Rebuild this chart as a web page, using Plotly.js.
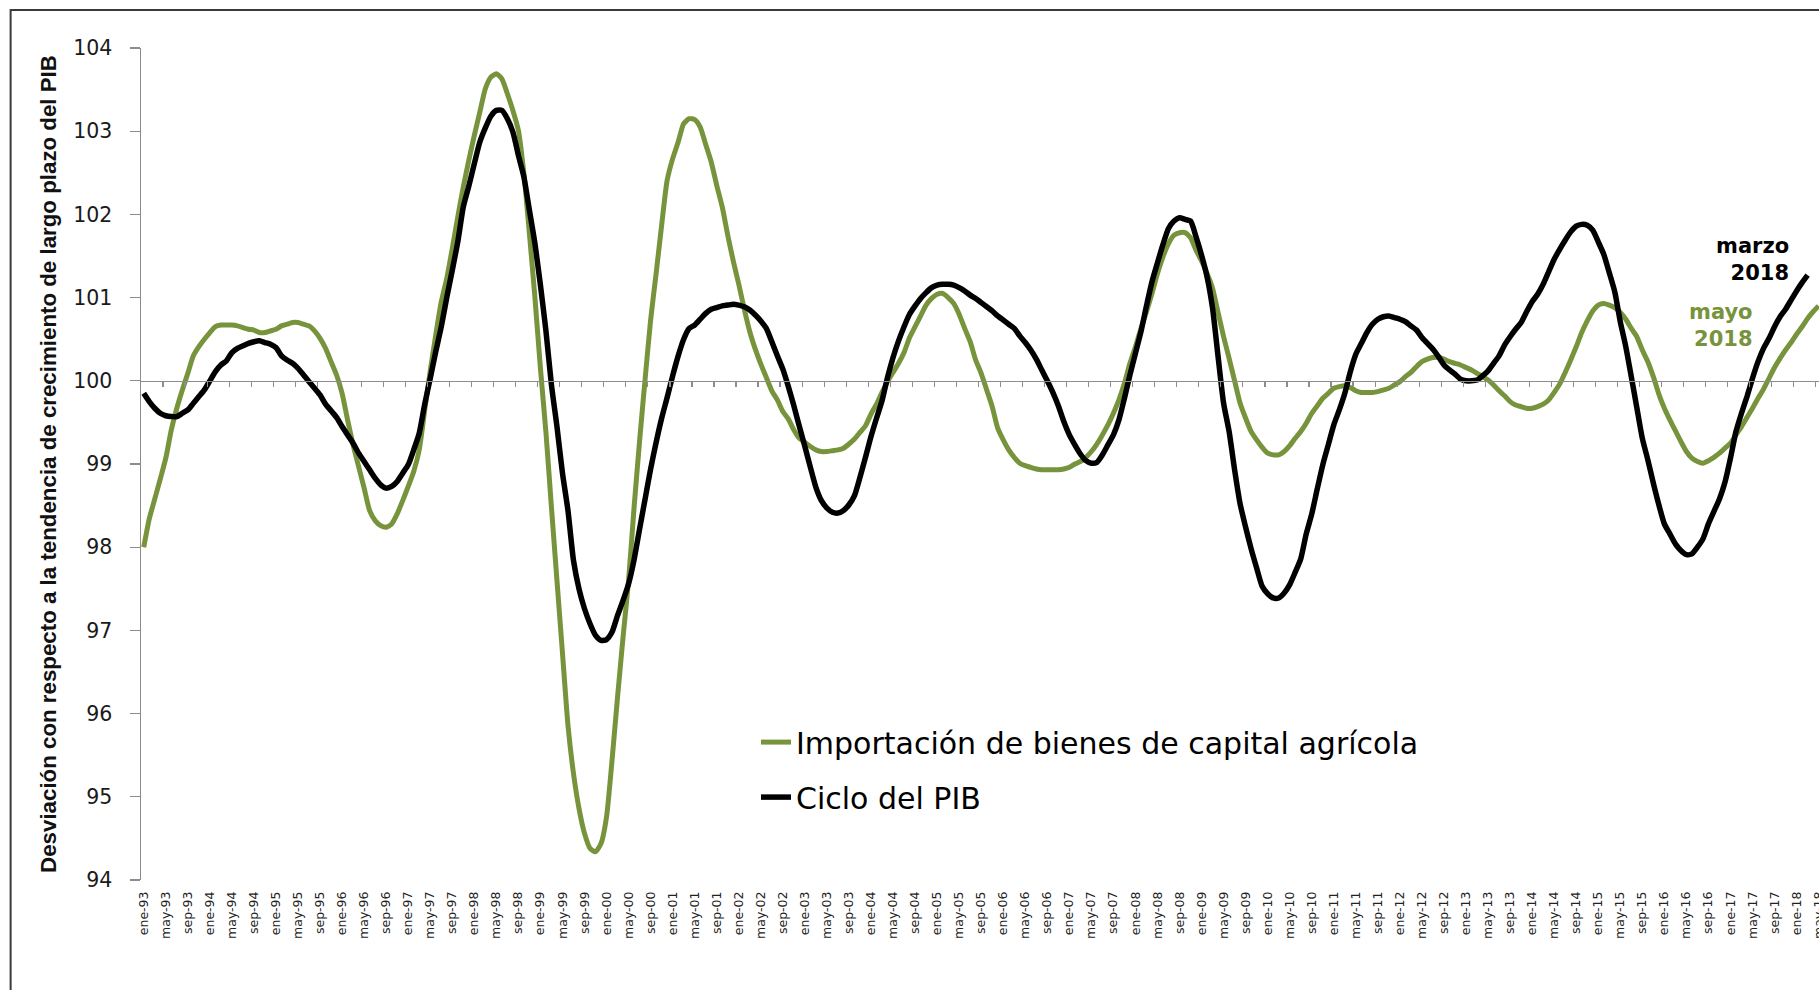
<!DOCTYPE html>
<html>
<head>
<meta charset="utf-8">
<script src="https://cdn.plot.ly/plotly-3.0.1.min.js"></script>
<style>
  html, body { margin: 0; padding: 0; background: #ffffff; overflow: hidden; }
  #chart { width: 1819px; height: 990px; }
</style>
</head>
<body>
<div id="chart"></div>
<script>
// ---- Data ----
const monthNames = ['ene','feb','mar','abr','may','jun','jul','ago','sep','oct','nov','dic'];
const firstYear = 1993;
const monthCount = 305; // ene-93 .. may-18

// Importación de bienes de capital agrícola (ene-93 .. may-18)
const importacion = [
  98.00, 98.34, 98.58, 98.82, 99.07, 99.41, 99.67, 99.89, 100.09, 100.30, 100.41, 100.50,
  100.58, 100.65, 100.67, 100.67, 100.67, 100.66, 100.64, 100.62, 100.61, 100.58, 100.58, 100.60,
  100.62, 100.66, 100.68, 100.70, 100.70, 100.68, 100.66, 100.60, 100.51, 100.39, 100.23, 100.07,
  99.85, 99.53, 99.23, 98.97, 98.71, 98.44, 98.32, 98.26, 98.24, 98.28, 98.40, 98.56,
  98.73, 98.91, 99.17, 99.65, 100.12, 100.55, 100.95, 101.23, 101.59, 101.97, 102.33, 102.65,
  102.95, 103.23, 103.51, 103.65, 103.69, 103.63, 103.45, 103.25, 103.01, 102.49, 101.77, 101.00,
  100.15, 99.38, 98.48, 97.60, 96.73, 95.86, 95.28, 94.86, 94.56, 94.38, 94.34, 94.44,
  94.76, 95.44, 96.20, 96.92, 97.60, 98.48, 99.28, 100.02, 100.73, 101.29, 101.87, 102.41,
  102.67, 102.87, 103.09, 103.15, 103.14, 103.05, 102.84, 102.63, 102.35, 102.09, 101.75, 101.44,
  101.16, 100.86, 100.59, 100.38, 100.20, 100.04, 99.88, 99.77, 99.63, 99.54, 99.41, 99.31,
  99.26, 99.21, 99.17, 99.15, 99.15, 99.16, 99.17, 99.19, 99.24, 99.30, 99.38, 99.46,
  99.60, 99.72, 99.86, 99.99, 100.10, 100.21, 100.34, 100.52, 100.65, 100.78, 100.91, 100.99,
  101.04, 101.05, 101.00, 100.93, 100.80, 100.63, 100.47, 100.25, 100.09, 99.89, 99.69, 99.43,
  99.29, 99.17, 99.08, 99.01, 98.98, 98.96, 98.94, 98.93, 98.93, 98.93, 98.93, 98.94,
  98.96, 99.00, 99.03, 99.08, 99.15, 99.24, 99.35, 99.47, 99.61, 99.77, 99.97, 100.21,
  100.41, 100.63, 100.83, 101.05, 101.29, 101.49, 101.65, 101.75, 101.78, 101.78, 101.72, 101.57,
  101.44, 101.29, 101.11, 100.82, 100.53, 100.27, 100.00, 99.73, 99.55, 99.39, 99.29, 99.20,
  99.13, 99.11, 99.11, 99.15, 99.22, 99.31, 99.39, 99.49, 99.61, 99.70, 99.79, 99.85,
  99.91, 99.93, 99.94, 99.92, 99.88, 99.86, 99.86, 99.86, 99.87, 99.89, 99.91, 99.95,
  99.99, 100.05, 100.10, 100.17, 100.23, 100.26, 100.28, 100.28, 100.26, 100.23, 100.21, 100.19,
  100.16, 100.13, 100.09, 100.05, 100.01, 99.95, 99.88, 99.82, 99.75, 99.71, 99.69, 99.67,
  99.67, 99.69, 99.72, 99.77, 99.86, 99.96, 100.10, 100.25, 100.41, 100.58, 100.72, 100.84,
  100.91, 100.93, 100.91, 100.88, 100.82, 100.74, 100.63, 100.53, 100.37, 100.23, 100.05, 99.84,
  99.67, 99.53, 99.40, 99.27, 99.15, 99.07, 99.03, 99.01, 99.04, 99.08, 99.13, 99.19,
  99.25, 99.35, 99.45, 99.56, 99.67, 99.79, 99.90, 100.03, 100.16, 100.27, 100.37, 100.46,
  100.56, 100.65, 100.75, 100.83, 100.90
];

// Ciclo del PIB (ene-93 .. mar-18)
const cicloPIB = [
  99.85, 99.75, 99.67, 99.61, 99.58, 99.57, 99.57, 99.61, 99.65, 99.73, 99.81, 99.89,
  100.00, 100.11, 100.19, 100.24, 100.34, 100.39, 100.42, 100.45, 100.47, 100.48, 100.46, 100.44,
  100.40, 100.30, 100.25, 100.21, 100.15, 100.07, 99.99, 99.91, 99.83, 99.72, 99.64, 99.56,
  99.45, 99.35, 99.25, 99.13, 99.03, 98.93, 98.83, 98.75, 98.71, 98.73, 98.79, 98.89,
  98.99, 99.17, 99.37, 99.72, 100.03, 100.35, 100.65, 101.00, 101.33, 101.67, 102.09, 102.34,
  102.61, 102.87, 103.04, 103.18, 103.25, 103.25, 103.15, 102.99, 102.71, 102.45, 102.05, 101.65,
  101.15, 100.60, 99.95, 99.45, 98.89, 98.44, 97.84, 97.50, 97.26, 97.08, 96.94, 96.88,
  96.89, 96.98, 97.18, 97.36, 97.56, 97.85, 98.22, 98.58, 98.94, 99.26, 99.55, 99.80,
  100.06, 100.30, 100.50, 100.63, 100.67, 100.74, 100.81, 100.86, 100.88, 100.90, 100.91, 100.92,
  100.91, 100.89, 100.85, 100.79, 100.72, 100.63, 100.47, 100.30, 100.14, 99.93, 99.70, 99.45,
  99.21, 98.96, 98.72, 98.56, 98.47, 98.42, 98.41, 98.44, 98.51, 98.62, 98.84, 99.08,
  99.33, 99.55, 99.76, 100.04, 100.28, 100.48, 100.65, 100.80, 100.90, 100.99, 101.06, 101.12,
  101.15, 101.16, 101.16, 101.15, 101.12, 101.08, 101.03, 100.99, 100.94, 100.89, 100.84, 100.78,
  100.73, 100.68, 100.63, 100.54, 100.46, 100.37, 100.26, 100.13, 100.00, 99.86, 99.70, 99.51,
  99.35, 99.23, 99.12, 99.04, 99.01, 99.02, 99.11, 99.23, 99.35, 99.53, 99.79, 100.07,
  100.33, 100.59, 100.90, 101.19, 101.42, 101.64, 101.83, 101.92, 101.96, 101.94, 101.92, 101.73,
  101.51, 101.25, 100.87, 100.29, 99.73, 99.39, 98.93, 98.52, 98.24, 97.98, 97.75, 97.53,
  97.44, 97.39, 97.39, 97.45, 97.55, 97.70, 97.86, 98.16, 98.40, 98.70, 98.99, 99.23,
  99.47, 99.65, 99.85, 100.11, 100.32, 100.45, 100.58, 100.68, 100.74, 100.77, 100.78, 100.76,
  100.74, 100.71, 100.66, 100.61, 100.52, 100.45, 100.38, 100.29, 100.19, 100.13, 100.08, 100.02,
  100.00, 100.00, 100.01, 100.06, 100.12, 100.21, 100.30, 100.43, 100.53, 100.62, 100.70, 100.83,
  100.95, 101.04, 101.16, 101.31, 101.46, 101.58, 101.69, 101.79, 101.86, 101.88, 101.87, 101.81,
  101.67, 101.52, 101.30, 101.07, 100.71, 100.41, 100.05, 99.68, 99.31, 99.05, 98.77, 98.51,
  98.28, 98.16, 98.04, 97.96, 97.91, 97.92, 98.00, 98.10, 98.28, 98.43, 98.58, 98.78,
  99.07, 99.39, 99.61, 99.81, 100.03, 100.23, 100.39, 100.51, 100.65, 100.77, 100.86, 100.97,
  101.08, 101.18, 101.27
];

// ---- Category labels built from month names and years ----
const months = [];
for (let k = 0; k < monthCount; k++) {
  const y = (firstYear + Math.floor(k / 12)) % 100;
  months.push(monthNames[k % 12] + '-' + String(y).padStart(2, '0'));
}
const tickLabels = months.filter((_, k) => k % 4 === 0);
const boundaryTicks = [];
for (let k = 4; k < monthCount; k += 4) boundaryTicks.push(k - 0.5);

const GREEN = '#77933C';
const AXIS_GRAY = '#8c8c8c';
const xRange = [-0.5, 304.07];

const traces = [
  {
    type: 'scatter', mode: 'lines', name: 'Importación de bienes de capital agrícola',
    x: months.slice(0, importacion.length), y: importacion,
    line: { color: GREEN, width: 5, shape: 'spline', smoothing: 0.6 },
    legendgroup: 'g1', hoverinfo: 'x+y'
  },
  {
    type: 'scatter', mode: 'lines', name: 'Ciclo del PIB',
    x: months.slice(0, cicloPIB.length), y: cicloPIB,
    line: { color: '#000000', width: 5.5, shape: 'spline', smoothing: 0.6 },
    legendgroup: 'g2', hoverinfo: 'x+y'
  },
  {
    // carrier for the horizontal axis line drawn at y = 100
    type: 'scatter', mode: 'lines', x: [null], y: [null],
    xaxis: 'x2', yaxis: 'y', showlegend: false, hoverinfo: 'skip'
  }
];

const layout = {
  width: 1819, height: 990,
  margin: { l: 141, r: 0, t: 48, b: 110 },
  paper_bgcolor: '#ffffff', plot_bgcolor: '#ffffff',
  font: { family: 'DejaVu Sans', color: '#1a1a1a' },
  xaxis: {
    type: 'category', range: xRange,
    tickmode: 'array', tickvals: tickLabels, ticktext: tickLabels,
    tickangle: -90, ticks: '', ticklabelstandoff: 8,
    tickfont: { family: 'DejaVu Sans', size: 12.5, color: '#222222' },
    showline: false, showgrid: false, zeroline: false, fixedrange: true
  },
  xaxis2: {
    type: 'linear', overlaying: 'x', anchor: 'free', position: 0.6, side: 'bottom',
    range: xRange, tickmode: 'array', tickvals: boundaryTicks,
    ticks: 'outside', ticklen: 5, tickwidth: 1.2, tickcolor: AXIS_GRAY,
    showticklabels: false, showline: true, linecolor: AXIS_GRAY, linewidth: 1.5,
    showgrid: false, zeroline: false, fixedrange: true
  },
  yaxis: {
    range: [94, 104], tick0: 94, dtick: 1,
    ticks: 'outside', ticklen: 10, tickwidth: 1.2, tickcolor: AXIS_GRAY,
    showline: true, linecolor: AXIS_GRAY, linewidth: 1.5,
    showgrid: false, zeroline: false, fixedrange: true,
    ticklabelstandoff: 13,
    tickfont: { family: 'DejaVu Sans', size: 20.5, color: '#1a1a1a' },
    title: {
      text: '<b>Desviación con respecto a la tendencia de crecimiento de largo plazo del PIB</b>',
      font: { family: 'Liberation Sans', size: 22.3, color: '#111111' },
      standoff: 10
    }
  },
  showlegend: true,
  legend: {
    x: 0.3665, y: 0.197, xanchor: 'left', yanchor: 'top',
    font: { family: 'DejaVu Sans', size: 30, color: '#000000' },
    bgcolor: 'rgba(0,0,0,0)', borderwidth: 0, tracegroupgap: 13
  },
  annotations: [
    {
      xref: 'paper', yref: 'paper', x: 0.9833, y: 0.7456, xanchor: 'right', yanchor: 'middle',
      align: 'right', showarrow: false, text: '<b>marzo<br>2018</b>',
      font: { family: 'DejaVu Sans', size: 21, color: '#000000' }
    },
    {
      xref: 'paper', yref: 'paper', x: 0.9619, y: 0.667, xanchor: 'right', yanchor: 'middle',
      align: 'right', showarrow: false, text: '<b>mayo<br>2018</b>',
      font: { family: 'DejaVu Sans', size: 21, color: GREEN }
    }
  ],
  shapes: [
    {
      type: 'rect', xref: 'paper', yref: 'paper',
      x0: -0.0777, x1: 1.05, y0: -0.2, y1: 1.0457,
      line: { color: '#3a3a3a', width: 2 }, fillcolor: 'rgba(0,0,0,0)'
    }
  ]
};

Plotly.newPlot('chart', traces, layout, { displayModeBar: false, responsive: false, staticPlot: true });
</script>
</body>
</html>
